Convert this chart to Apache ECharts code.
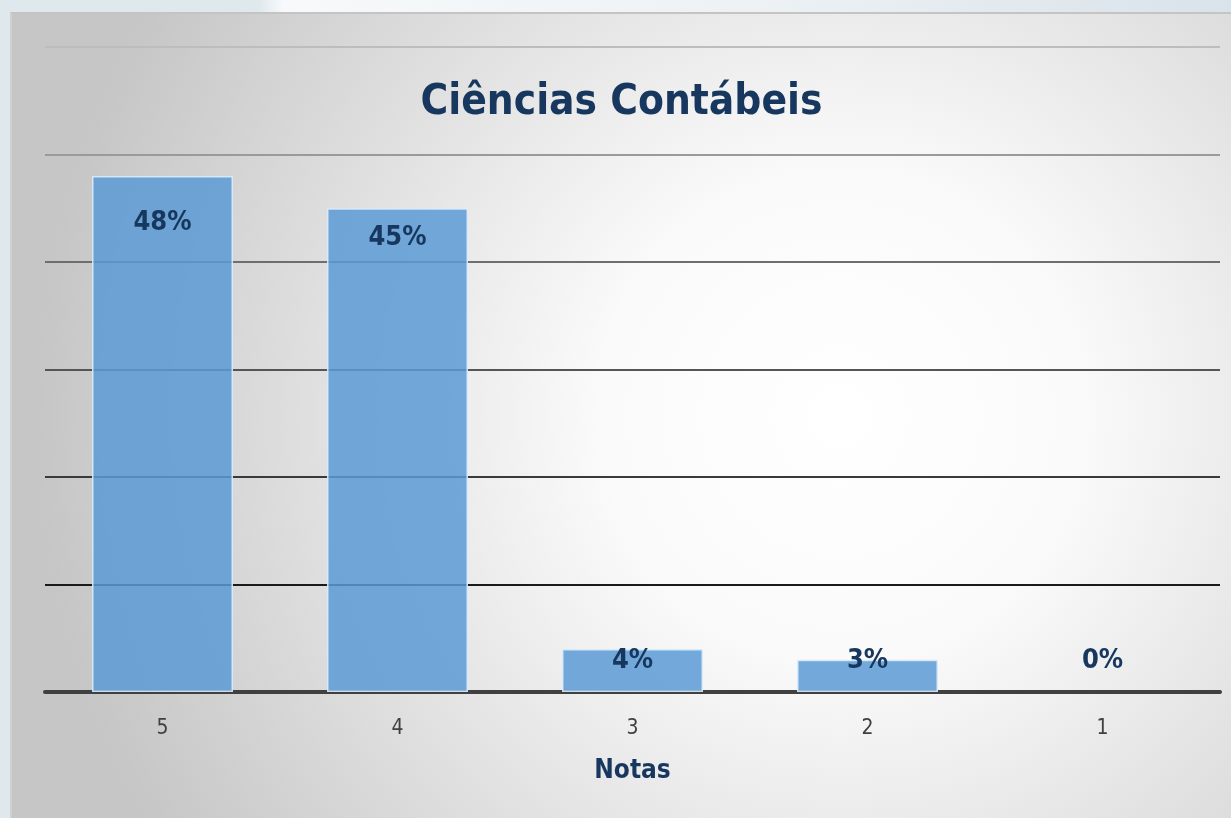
<!DOCTYPE html>
<html>
<head>
<meta charset="utf-8">
<script src="https://cdn.jsdelivr.net/npm/echarts@6/dist/echarts.min.js"></script>
<style>
  html, body { margin: 0; padding: 0; width: 1231px; height: 818px; overflow: hidden;
    background: linear-gradient(90deg, #dfe8ed 0%, #dfe8ed 21%, #f7f9fa 23%, #eef2f5 60%, #d9e3ea 100%); }
  #main { position: absolute; left: 10px; top: 12px; width: 1221px; height: 806px;
    border-top: 2px solid #c4c4c4; border-left: 2px solid #d0d0d0; box-sizing: border-box; }
</style>
</head>
<body>
<div id="main"></div>
<script>
// Ciências Contábeis - distribuição das notas
var notas = ['5', '4', '3', '2', '1'];
var percentuais = [48, 45, 4, 3, 0];
var ticksY = [0, 10, 20, 30, 40, 50, 60];

var fonteCond = "'DejaVu Sans Condensed', 'Liberation Sans Narrow', sans-serif";

var myChart = echarts.init(document.getElementById('main'));

var dados = percentuais.map(function (v) {
    var lbl;
    if (v < 10) {
        lbl = { position: 'insideBottom', distance: 18 };
    } else {
        lbl = { position: 'insideTop', distance: v > 46 ? 33 : 16 };
    }
    var item = { value: v, label: lbl };
    if (v === 0) item.itemStyle = { borderWidth: 0 };
    return item;
});

var option = {
    backgroundColor: {
        type: 'radial', x: 0.68, y: 0.5, r: 1.0,
        colorStops: [
            { offset: 0, color: '#ffffff' },
            { offset: 0.3, color: '#fafafa' },
            { offset: 1, color: '#c6c6c6' }
        ]
    },
    title: {
        text: 'Ciências Contábeis',
        left: 'center',
        top: 63,
        textStyle: {
            fontFamily: fonteCond,
            fontWeight: 'bold',
            fontSize: 42,
            color: '#17375e'
        }
    },
    grid: { left: 33, right: 11, top: 33, bottom: 126 },
    xAxis: {
        type: 'category',
        data: notas,
        name: 'Notas',
        nameLocation: 'middle',
        nameGap: 66,
        nameTextStyle: {
            fontFamily: fonteCond,
            fontWeight: 'bold', fontSize: 26, color: '#17375e'
        },
        axisLine: { lineStyle: { color: '#404040', width: 4 } },
        axisTick: { show: false },
        axisLabel: {
            margin: 26, fontSize: 21, color: '#404040',
            fontFamily: fonteCond
        }
    },
    yAxis: {
        type: 'value',
        min: ticksY[0],
        max: ticksY[ticksY.length - 1],
        interval: 10,
        axisLabel: { show: false },
        axisLine: { show: false },
        axisTick: { show: false },
        splitLine: {
            lineStyle: {
                width: 2,
                color: ['#404040', '#1a1a1a', '#3a3a3a', '#555555', '#6e6e6e', '#9a9a9a', '#bdbdbd']
            }
        }
    },
    series: [{
        type: 'bar',
        data: dados,
        barCategoryGap: '40%',
        itemStyle: {
            color: 'rgba(91,155,213,0.85)',
            borderColor: 'rgba(220,235,250,0.9)',
            borderWidth: 1.5
        },
        label: {
            show: true,
            formatter: '{c}%',
            fontFamily: fonteCond,
            fontWeight: 'bold',
            fontSize: 27,
            color: '#17375e'
        },
        z: 1
    }]
};
myChart.setOption(option);
</script>
</body>
</html>
